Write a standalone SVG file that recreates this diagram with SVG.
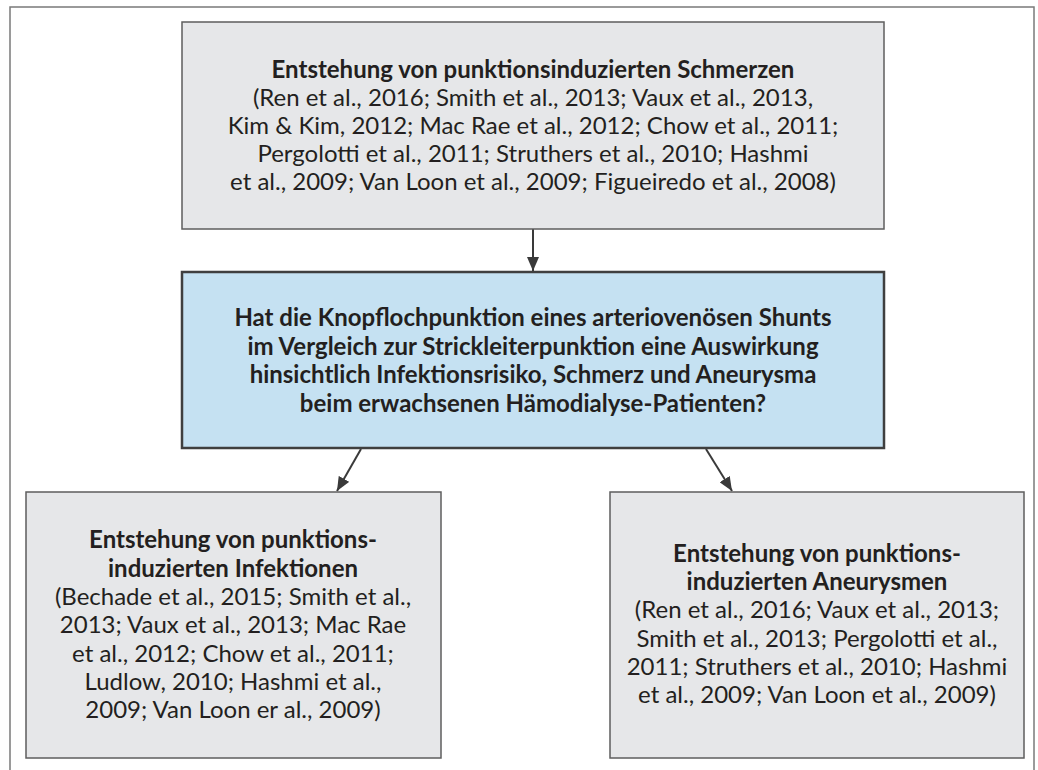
<svg xmlns="http://www.w3.org/2000/svg" width="1038" height="770" viewBox="0 0 1038 770">
<style>
.frame{fill:#ffffff;stroke:#7a7a7a;stroke-width:1.5}
.grey{fill:#e6e7e9;stroke:#5e5e5e;stroke-width:1.5}
.blue{fill:#c5e1f2;stroke:#3f3f3f;stroke-width:2.5}
text{font-family:Lato,"Open Sans","Liberation Sans",sans-serif;font-size:24px;fill:#231f20;text-anchor:middle}
.b{font-weight:bold}
.conn{stroke:#3a3a3a;stroke-width:2;fill:none}
</style>
<defs>
<marker id="ah" viewBox="0 0 14 12" refX="14" refY="6" markerWidth="14" markerHeight="12" markerUnits="userSpaceOnUse" orient="auto">
<path d="M0,0 L14,6 L0,12 z" fill="#3a3a3a"/>
</marker>
</defs>
<rect class="frame" x="10" y="7" width="1024" height="800"/>
<g id="connectors">
<line class="conn" x1="533" y1="229" x2="533" y2="271" marker-end="url(#ah)"/>
<line class="conn" x1="361" y1="449" x2="337" y2="491" marker-end="url(#ah)"/>
<line class="conn" x1="706" y1="449" x2="732" y2="491" marker-end="url(#ah)"/>
</g>
<g id="n-schmerzen">
<rect class="grey" x="182" y="22" width="702" height="207"/>
<text x="533" y="78" class="b">Entstehung von punktionsinduzierten Schmerzen</text>
<text x="533" y="106">(Ren et al., 2016; Smith et al., 2013; Vaux et al., 2013,</text>
<text x="533" y="134">Kim &amp; Kim, 2012; Mac Rae et al., 2012; Chow et al., 2011;</text>
<text x="533" y="162">Pergolotti et al., 2011; Struthers et al., 2010; Hashmi</text>
<text x="533" y="190">et al., 2009; Van Loon et al., 2009; Figueiredo et al., 2008)</text>
</g>
<g id="n-frage">
<rect class="blue" x="182" y="272" width="702" height="176"/>
<text x="533" y="326" class="b">Hat die Knopflochpunktion eines arteriovenösen Shunts</text>
<text x="533" y="355" class="b">im Vergleich zur Strickleiterpunktion eine Auswirkung</text>
<text x="533" y="383" class="b">hinsichtlich Infektionsrisiko, Schmerz und Aneurysma</text>
<text x="533" y="412" class="b">beim erwachsenen Hämodialyse-Patienten?</text>
</g>
<g id="n-infektionen">
<rect class="grey" x="26" y="492" width="415" height="266"/>
<text x="233" y="548" class="b">Entstehung von punktions-</text>
<text x="233" y="577" class="b">induzierten Infektionen</text>
<text x="233" y="605">(Bechade et al., 2015; Smith et al.,</text>
<text x="233" y="633">2013; Vaux et al., 2013; Mac Rae</text>
<text x="233" y="662">et al., 2012; Chow et al., 2011;</text>
<text x="233" y="690">Ludlow, 2010; Hashmi et al.,</text>
<text x="233" y="718">2009; Van Loon er al., 2009)</text>
</g>
<g id="n-aneurysmen">
<rect class="grey" x="610" y="492" width="414" height="266"/>
<text x="817" y="562" class="b">Entstehung von punktions-</text>
<text x="817" y="590" class="b">induzierten Aneurysmen</text>
<text x="817" y="618">(Ren et al., 2016; Vaux et al., 2013;</text>
<text x="817" y="647">Smith et al., 2013; Pergolotti et al.,</text>
<text x="817" y="675">2011; Struthers et al., 2010; Hashmi</text>
<text x="817" y="703">et al., 2009; Van Loon et al., 2009)</text>
</g>
</svg>
